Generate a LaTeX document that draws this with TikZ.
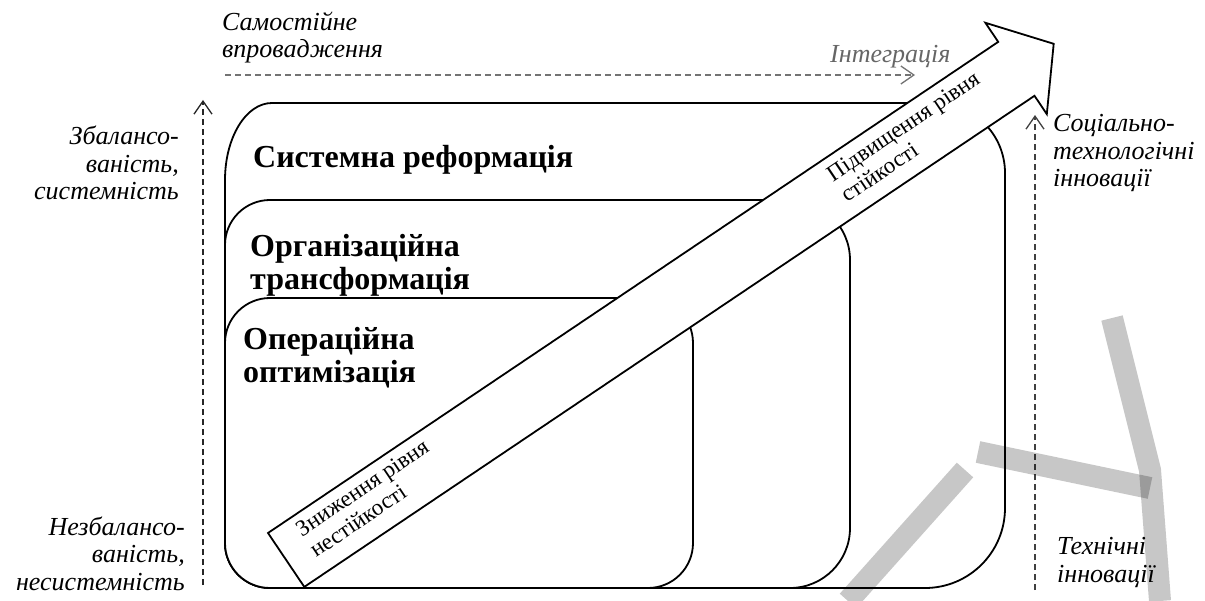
\documentclass[tikz,border=0pt]{standalone}
\usepackage{fontspec}
\setmainfont{Liberation Serif}
\usetikzlibrary{arrows.meta}

\tikzset{
  box/.style={line width=1.8pt, fill=white},
  title/.style={font=\bfseries\fontsize{32}{33}\selectfont, align=left, anchor=base west, inner sep=0pt},
  side/.style={font=\itshape\fontsize{26}{27.5}\selectfont, inner sep=0pt},
  flow/.style={dash pattern=on 6pt off 4pt, line width=1.3pt, -{Straight Barb[length=13pt,width=18pt]}},
  shaft/.style={line width=1.8pt, fill=white, line join=miter},
  along/.style={font=\fontsize{23}{25}\selectfont, rotate=33.93, align=left, anchor=base west, inner sep=0pt},
  stamp/.style={line width=22pt, black, opacity=0.22}
}

\begin{document}
\begin{tikzpicture}[x=1pt,y=-1pt]
			%%%%% START %%%%%
			\useasboundingbox (0,0) rectangle (1205,601);
			
			% three levels
			\draw[box] (272,103) [rounded corners=70] -- (1005,103) [rounded corners=80] -- (1005,588) [rounded corners=45] -- (225,588) [sharp corners] -- (225,180) .. controls (225,137.5) and (246,103) .. (272,103) -- cycle;
			\draw[box] (500,588) [rounded corners=45] -- (225,588) -- (225,200) [rounded corners=60] -- (850,200) -- (850,588) -- cycle;
			\draw[box] (450,588) [rounded corners=45] -- (225,588) -- (225,298) -- (693,298) -- (693,588) -- cycle;
			
			\node[title] (sys) at (253,168) {Системна реформація};
			\node[title] (org) at (250,290) {Організаційна\\трансформація};
			\node[title] (oper) at (243,383) {Операційна\\оптимізація};
			
			% big arrow
			\coordinate (t1) at (268,533);
			\coordinate (n1) at (998.2,41.9);
			\coordinate (hA) at (985.4,22.8);
			\coordinate (tip) at (1053.7,43.8);
			\coordinate (hC) at (1046.8,114.1);
			\coordinate (n2) at (1034.5,95.8);
			\coordinate (t2) at (304.3,586.9);
			\draw[shaft] (t1) -- (n1) -- (hA) -- (tip) -- (hC) -- (n2) -- (t2) -- cycle;
			
			\node[along] (up) at (847,203) {Підвищення рівня\\стійкості};
			\node[along] (down) at (316,558) {Зниження рівня\\нестійкості};
			
			% axes
			\coordinate (s0) at (225,75);
			\coordinate (s1) at (915,75);
			\draw[flow, black!55] (s0) -- (s1);
			\coordinate (b0) at (203,585);
			\coordinate (b1) at (203,100);
			\draw[flow, black!85] (b0) -- (b1);
			\coordinate (i0) at (1035,590);
			\coordinate (i1) at (1035,115);
			\draw[flow, black!75] (i0) -- (i1);
			
			\node[side, align=left, anchor=base west] (self) at (222,58) {Самостійне\\впровадження};
			\node[side, anchor=base west, black!60] (integ) at (830,63) {Інтеграція};
			\node[side, align=right, anchor=base east] (bal) at (179,200) {Збалансо-\\ваність,\\системність};
			\node[side, align=right, anchor=base east] (unbal) at (185,590) {Незбалансо-\\ваність,\\несистемність};
			\node[side, align=left, anchor=base west] (soc) at (1053,187) {Соціально-\\технологічні\\інновації};
			\node[side, align=left, anchor=base west] (tech) at (1057,582) {Технічні\\інновації};
			
			% stamp
			\draw[stamp] (1112,318) -- (1150,470) -- (1160,601);
			\draw[stamp] (978,452) -- (1150,488);
			\draw[stamp] (965,470) -- (848,601);
			
			%%%%% END %%%%%
\end{tikzpicture}
\end{document}
